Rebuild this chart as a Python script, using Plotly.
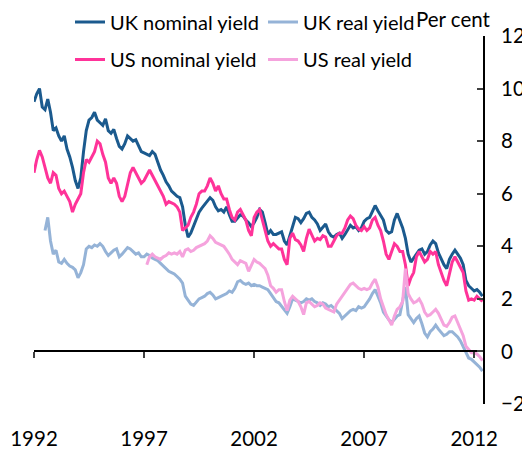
"""UK and US nominal and real 10-year government bond yields, 1992-2012."""

import plotly.graph_objects as go

# Colours
_UK_NOM = "#1B5A8E"
_UK_REAL = "#95B3D7"
_US_NOM = "#FF3399"
_US_REAL = "#F5A3DD"

# Sampling dates (decimal years, every 1.5 months)
years = [
    1992.0, 1992.125, 1992.25, 1992.375, 1992.5, 1992.625, 1992.75, 1992.875,
    1993.0, 1993.125, 1993.25, 1993.375, 1993.5, 1993.625, 1993.75, 1993.875,
    1994.0, 1994.125, 1994.25, 1994.375, 1994.5, 1994.625, 1994.75, 1994.875,
    1995.0, 1995.125, 1995.25, 1995.375, 1995.5, 1995.625, 1995.75, 1995.875,
    1996.0, 1996.125, 1996.25, 1996.375, 1996.5, 1996.625, 1996.75, 1996.875,
    1997.0, 1997.125, 1997.25, 1997.375, 1997.5, 1997.625, 1997.75, 1997.875,
    1998.0, 1998.125, 1998.25, 1998.375, 1998.5, 1998.625, 1998.75, 1998.875,
    1999.0, 1999.125, 1999.25, 1999.375, 1999.5, 1999.625, 1999.75, 1999.875,
    2000.0, 2000.125, 2000.25, 2000.375, 2000.5, 2000.625, 2000.75, 2000.875,
    2001.0, 2001.125, 2001.25, 2001.375, 2001.5, 2001.625, 2001.75, 2001.875,
    2002.0, 2002.125, 2002.25, 2002.375, 2002.5, 2002.625, 2002.75, 2002.875,
    2003.0, 2003.125, 2003.25, 2003.375, 2003.5, 2003.625, 2003.75, 2003.875,
    2004.0, 2004.125, 2004.25, 2004.375, 2004.5, 2004.625, 2004.75, 2004.875,
    2005.0, 2005.125, 2005.25, 2005.375, 2005.5, 2005.625, 2005.75, 2005.875,
    2006.0, 2006.125, 2006.25, 2006.375, 2006.5, 2006.625, 2006.75, 2006.875,
    2007.0, 2007.125, 2007.25, 2007.375, 2007.5, 2007.625, 2007.75, 2007.875,
    2008.0, 2008.125, 2008.25, 2008.375, 2008.5, 2008.625, 2008.75, 2008.875,
    2009.0, 2009.125, 2009.25, 2009.375, 2009.5, 2009.625, 2009.75, 2009.875,
    2010.0, 2010.125, 2010.25, 2010.375, 2010.5, 2010.625, 2010.75, 2010.875,
    2011.0, 2011.125, 2011.25, 2011.375, 2011.5, 2011.625, 2011.75, 2011.875,
    2012.0, 2012.125, 2012.25, 2012.375,
]

uk_nominal = [
    9.5, 9.8, 10.0, 9.3, 9.2, 9.6, 9.1, 8.4,
    8.5, 8.2, 8.0, 8.2, 7.7, 7.4, 7.0, 6.5,
    6.2, 6.6, 7.6, 8.4, 8.8, 8.9, 9.1, 8.8,
    8.7, 8.6, 8.85, 8.4, 8.3, 8.45, 8.1, 7.8,
    7.7, 7.9, 8.2, 8.1, 8.0, 8.05, 7.8, 7.6,
    7.55, 7.5, 7.45, 7.6, 7.5, 7.2, 6.9, 6.7,
    6.45, 6.3, 6.1, 6.0, 5.9, 5.85, 5.5, 4.8,
    4.35, 4.5, 4.75, 5.0, 5.3, 5.45, 5.6, 5.7,
    5.85, 5.75, 5.5, 5.35, 5.4, 5.3, 5.5, 5.2,
    4.95, 4.95, 5.1, 5.2, 5.15, 5.0, 4.9, 4.75,
    4.9, 5.1, 5.4, 5.3, 4.9, 4.45, 4.6, 4.45,
    4.45, 4.5, 4.55, 4.2, 4.05, 4.4, 4.8, 5.1,
    5.05, 4.9, 5.05, 5.25, 5.3, 5.1, 5.0, 4.85,
    4.6, 4.75, 4.85, 4.55, 4.4, 4.35, 4.45, 4.5,
    4.3, 4.45, 4.6, 4.8, 4.7, 4.75, 4.6, 4.7,
    4.95, 5.05, 5.1, 5.35, 5.55, 5.35, 5.15, 5.0,
    4.6, 4.5, 4.55, 5.0, 5.25, 4.95, 4.7, 4.3,
    3.7, 3.4, 3.55, 3.7, 3.85, 3.9, 3.7, 3.8,
    4.05, 4.2, 4.1, 3.75, 3.5, 3.3, 3.15, 3.5,
    3.7, 3.85, 3.7, 3.55, 3.3, 2.7, 2.5, 2.4,
    2.3, 2.35, 2.25, 2.1,
]

uk_real = [
    None, None, None, None, 4.6, 5.1, 4.2, 3.7,
    3.85, 3.4, 3.35, 3.5, 3.35, 3.25, 3.2, 3.1,
    2.8, 3.0, 3.3, 3.9, 4.0, 3.95, 4.05, 4.0,
    4.1, 4.0, 3.8, 3.65, 3.75, 3.85, 3.9, 3.6,
    3.7, 3.85, 3.95, 3.9, 3.8, 3.7, 3.75, 3.6,
    3.6, 3.7, 3.65, 3.55, 3.5, 3.45, 3.35, 3.25,
    3.15, 3.05, 3.0, 2.95, 2.85, 2.75, 2.6, 2.1,
    1.95, 1.8, 1.75, 1.9, 2.0, 2.05, 2.1, 2.2,
    2.25, 2.15, 2.0, 2.05, 2.1, 2.15, 2.2, 2.3,
    2.25, 2.4, 2.65, 2.7, 2.6, 2.55, 2.6, 2.5,
    2.55, 2.5, 2.5, 2.45, 2.4, 2.35, 2.2, 2.05,
    1.9, 1.85, 1.7, 1.6, 1.45, 1.7, 2.0, 1.95,
    1.9, 1.85, 1.9, 2.0, 1.95, 2.0, 1.9, 1.85,
    1.75, 1.85, 1.8, 1.7, 1.75, 1.65, 1.55, 1.45,
    1.25, 1.35, 1.45, 1.55, 1.6, 1.55, 1.7, 1.65,
    1.7, 1.85, 2.0, 2.2, 2.35, 2.1, 1.85, 1.5,
    1.35, 1.2, 1.1, 1.25, 1.35, 1.4, 1.9, 2.45,
    1.4, 1.25, 1.1, 1.25, 1.35, 1.05, 0.7, 0.55,
    0.75, 0.85, 1.0, 0.85, 0.7, 0.6, 0.65, 0.75,
    0.75, 0.65, 0.55, 0.4, 0.2, -0.05, -0.25, -0.3,
    -0.4, -0.5, -0.6, -0.75,
]

us_nominal = [
    6.8, 7.3, 7.65, 7.4, 7.0, 6.6, 6.4, 6.8,
    6.7, 6.2, 6.0, 6.1, 5.9, 5.7, 5.3, 5.6,
    5.8, 6.0, 6.8, 7.3, 7.2, 7.4, 7.6, 8.0,
    7.9, 7.5, 7.2, 6.6, 6.4, 6.6, 6.4, 5.9,
    5.7, 5.9, 6.3, 6.8, 7.0, 6.8, 6.6, 6.4,
    6.5, 6.7, 6.9, 6.7, 6.5, 6.3, 6.1, 5.9,
    5.6, 5.7, 5.65, 5.6, 5.5, 5.3, 4.6, 4.7,
    4.8, 5.1, 5.3, 5.6, 6.0, 6.1, 6.1, 6.3,
    6.6, 6.4, 6.1, 6.3, 6.0, 5.8, 5.8, 5.4,
    5.1, 5.0, 5.3, 5.4, 5.2, 5.0, 4.6, 4.4,
    5.1, 5.3, 5.4, 5.0, 4.6, 4.2, 4.0, 4.1,
    4.0, 3.9, 3.9, 3.5, 3.3, 4.3, 4.5, 4.25,
    4.2, 4.05, 3.8, 4.3, 4.65, 4.4, 4.2, 4.3,
    4.25, 4.4, 4.35, 4.0, 4.0, 4.2, 4.4, 4.5,
    4.5, 4.7, 5.0, 5.15, 5.05, 4.8, 4.65, 4.6,
    4.75, 4.6, 4.7, 5.0, 5.1, 4.8, 4.6, 4.2,
    3.7, 3.5, 3.8, 4.1, 4.0, 3.8, 3.8, 3.3,
    2.5, 2.8, 3.0, 3.6, 3.8, 3.6, 3.4, 3.5,
    3.8, 3.7, 3.8, 3.3, 3.0, 2.7, 2.5, 3.0,
    3.4, 3.6, 3.4, 3.2, 3.0, 2.3, 1.95, 2.0,
    1.95, 2.1, 2.0, 1.9,
]

us_real = [
    None, None, None, None, None, None, None, None,
    None, None, None, None, None, None, None, None,
    None, None, None, None, None, None, None, None,
    None, None, None, None, None, None, None, None,
    None, None, None, None, None, None, None, None,
    None, 3.3, 3.6, 3.7, 3.6, 3.55, 3.5, 3.6,
    3.65, 3.75, 3.7, 3.75, 3.7, 3.8, 3.6, 3.85,
    3.9, 3.8, 3.85, 3.95, 4.0, 4.05, 4.1, 4.2,
    4.4, 4.3, 4.15, 4.1, 4.05, 4.0, 3.85, 3.7,
    3.5, 3.4, 3.3, 3.45, 3.4, 3.35, 3.05, 3.3,
    3.5, 3.4, 3.35, 3.25, 3.15, 2.9, 2.5, 2.4,
    2.25, 2.35, 2.35, 1.9, 1.55, 1.95, 2.1, 2.0,
    1.9, 1.7, 1.4, 1.85, 1.9, 1.8, 1.7, 1.75,
    1.85, 1.8, 1.65, 1.6, 1.55, 1.5, 1.8, 1.95,
    2.1, 2.25, 2.4, 2.55, 2.6, 2.5, 2.4, 2.35,
    2.4, 2.35, 2.4, 2.6, 2.75, 2.45, 2.0, 1.7,
    1.4, 1.2, 1.0, 1.35, 1.6, 1.7, 1.9, 3.15,
    2.2, 2.0, 1.85, 1.9, 2.0, 1.8, 1.5, 1.35,
    1.4, 1.5, 1.6, 1.45, 1.2, 1.0, 0.95, 1.1,
    1.3, 1.35, 1.1, 0.85, 0.6, 0.2, 0.05, -0.05,
    -0.05, -0.1, -0.2, -0.35,
]

tick_years = [1992, 1997, 2002, 2007, 2012]
tick_labels = ["1992", "1997", "2002", "2007", "2012"]
y_ticks = [-2, 0, 2, 4, 6, 8, 10, 12]

x_range = [1992, 2012.4]
y_range = [-2, 12]

# the page body adds an 8px margin, so the figure is 8px smaller than the window
W, H = 522, 442

fig = go.Figure()
series = [
    ("UK nominal yield", uk_nominal, _UK_NOM, "legend", "x"),
    ("UK real yield", uk_real, _UK_REAL, "legend2", "x"),
    ("US nominal yield", us_nominal, _US_NOM, "legend3", "x"),
    ("US real yield", us_real, _US_REAL, "legend4", "x2"),
]
for name, values, colour, legend, xaxis in series:
    fig.add_trace(
        go.Scatter(
            x=years,
            y=values,
            name=name,
            mode="lines",
            line=dict(color=colour, width=3),
            legend=legend,
            showlegend=True,
            xaxis=xaxis,
        )
    )

# one legend per entry so the 2x2 grid can be placed like the original
legend_style = dict(
    xref="container",
    yref="container",
    xanchor="left",
    yanchor="middle",
    bgcolor="rgba(0,0,0,0)",
    font=dict(size=20),
    itemclick=False,
)
col1, col2 = 62 / W, 255 / W
row1, row2 = 1 - 14 / H, 1 - 51.5 / H

fig.update_layout(
    width=W,
    height=H,
    showlegend=True,
    margin=dict(l=26, r=47, t=28, b=46, autoexpand=False),
    plot_bgcolor="white",
    paper_bgcolor="white",
    font=dict(family="Lato, 'Open Sans', sans-serif", size=20.5, color="black"),
    legend=dict(legend_style, x=col1, y=row1),
    legend2=dict(legend_style, x=col2, y=row1),
    legend3=dict(legend_style, x=col1, y=row2),
    legend4=dict(legend_style, x=col2, y=row2),
    xaxis=dict(
        range=x_range,
        tickvals=tick_years,
        ticktext=tick_labels,
        showline=False,
        showgrid=False,
        zeroline=False,
        ticks="",
        ticklabelstandoff=20,
    ),
    # second x axis sits on the zero line and carries the ticks
    xaxis2=dict(
        range=x_range,
        overlaying="x",
        anchor="free",
        position=2 / 14,
        tickvals=tick_years,
        showticklabels=False,
        ticks="outside",
        ticklen=6,
        tickwidth=1.5,
        tickcolor="#404040",
        showline=True,
        linecolor="black",
        linewidth=2,
        showgrid=False,
        zeroline=False,
    ),
    yaxis=dict(
        range=y_range,
        side="right",
        tickvals=y_ticks,
        showline=True,
        linecolor="black",
        linewidth=2,
        ticks="inside",
        ticklen=6,
        tickwidth=1.5,
        tickcolor="#404040",
        showgrid=False,
        zeroline=False,
        ticklabelstandoff=12,
    ),
    annotations=[
        dict(
            text="Per cent",
            xref="paper",
            yref="paper",
            x=0.935,
            y=1.045,
            xanchor="center",
            yanchor="middle",
            showarrow=False,
            font=dict(size=20.5),
        )
    ],
)

fig.write_html("out.html")
